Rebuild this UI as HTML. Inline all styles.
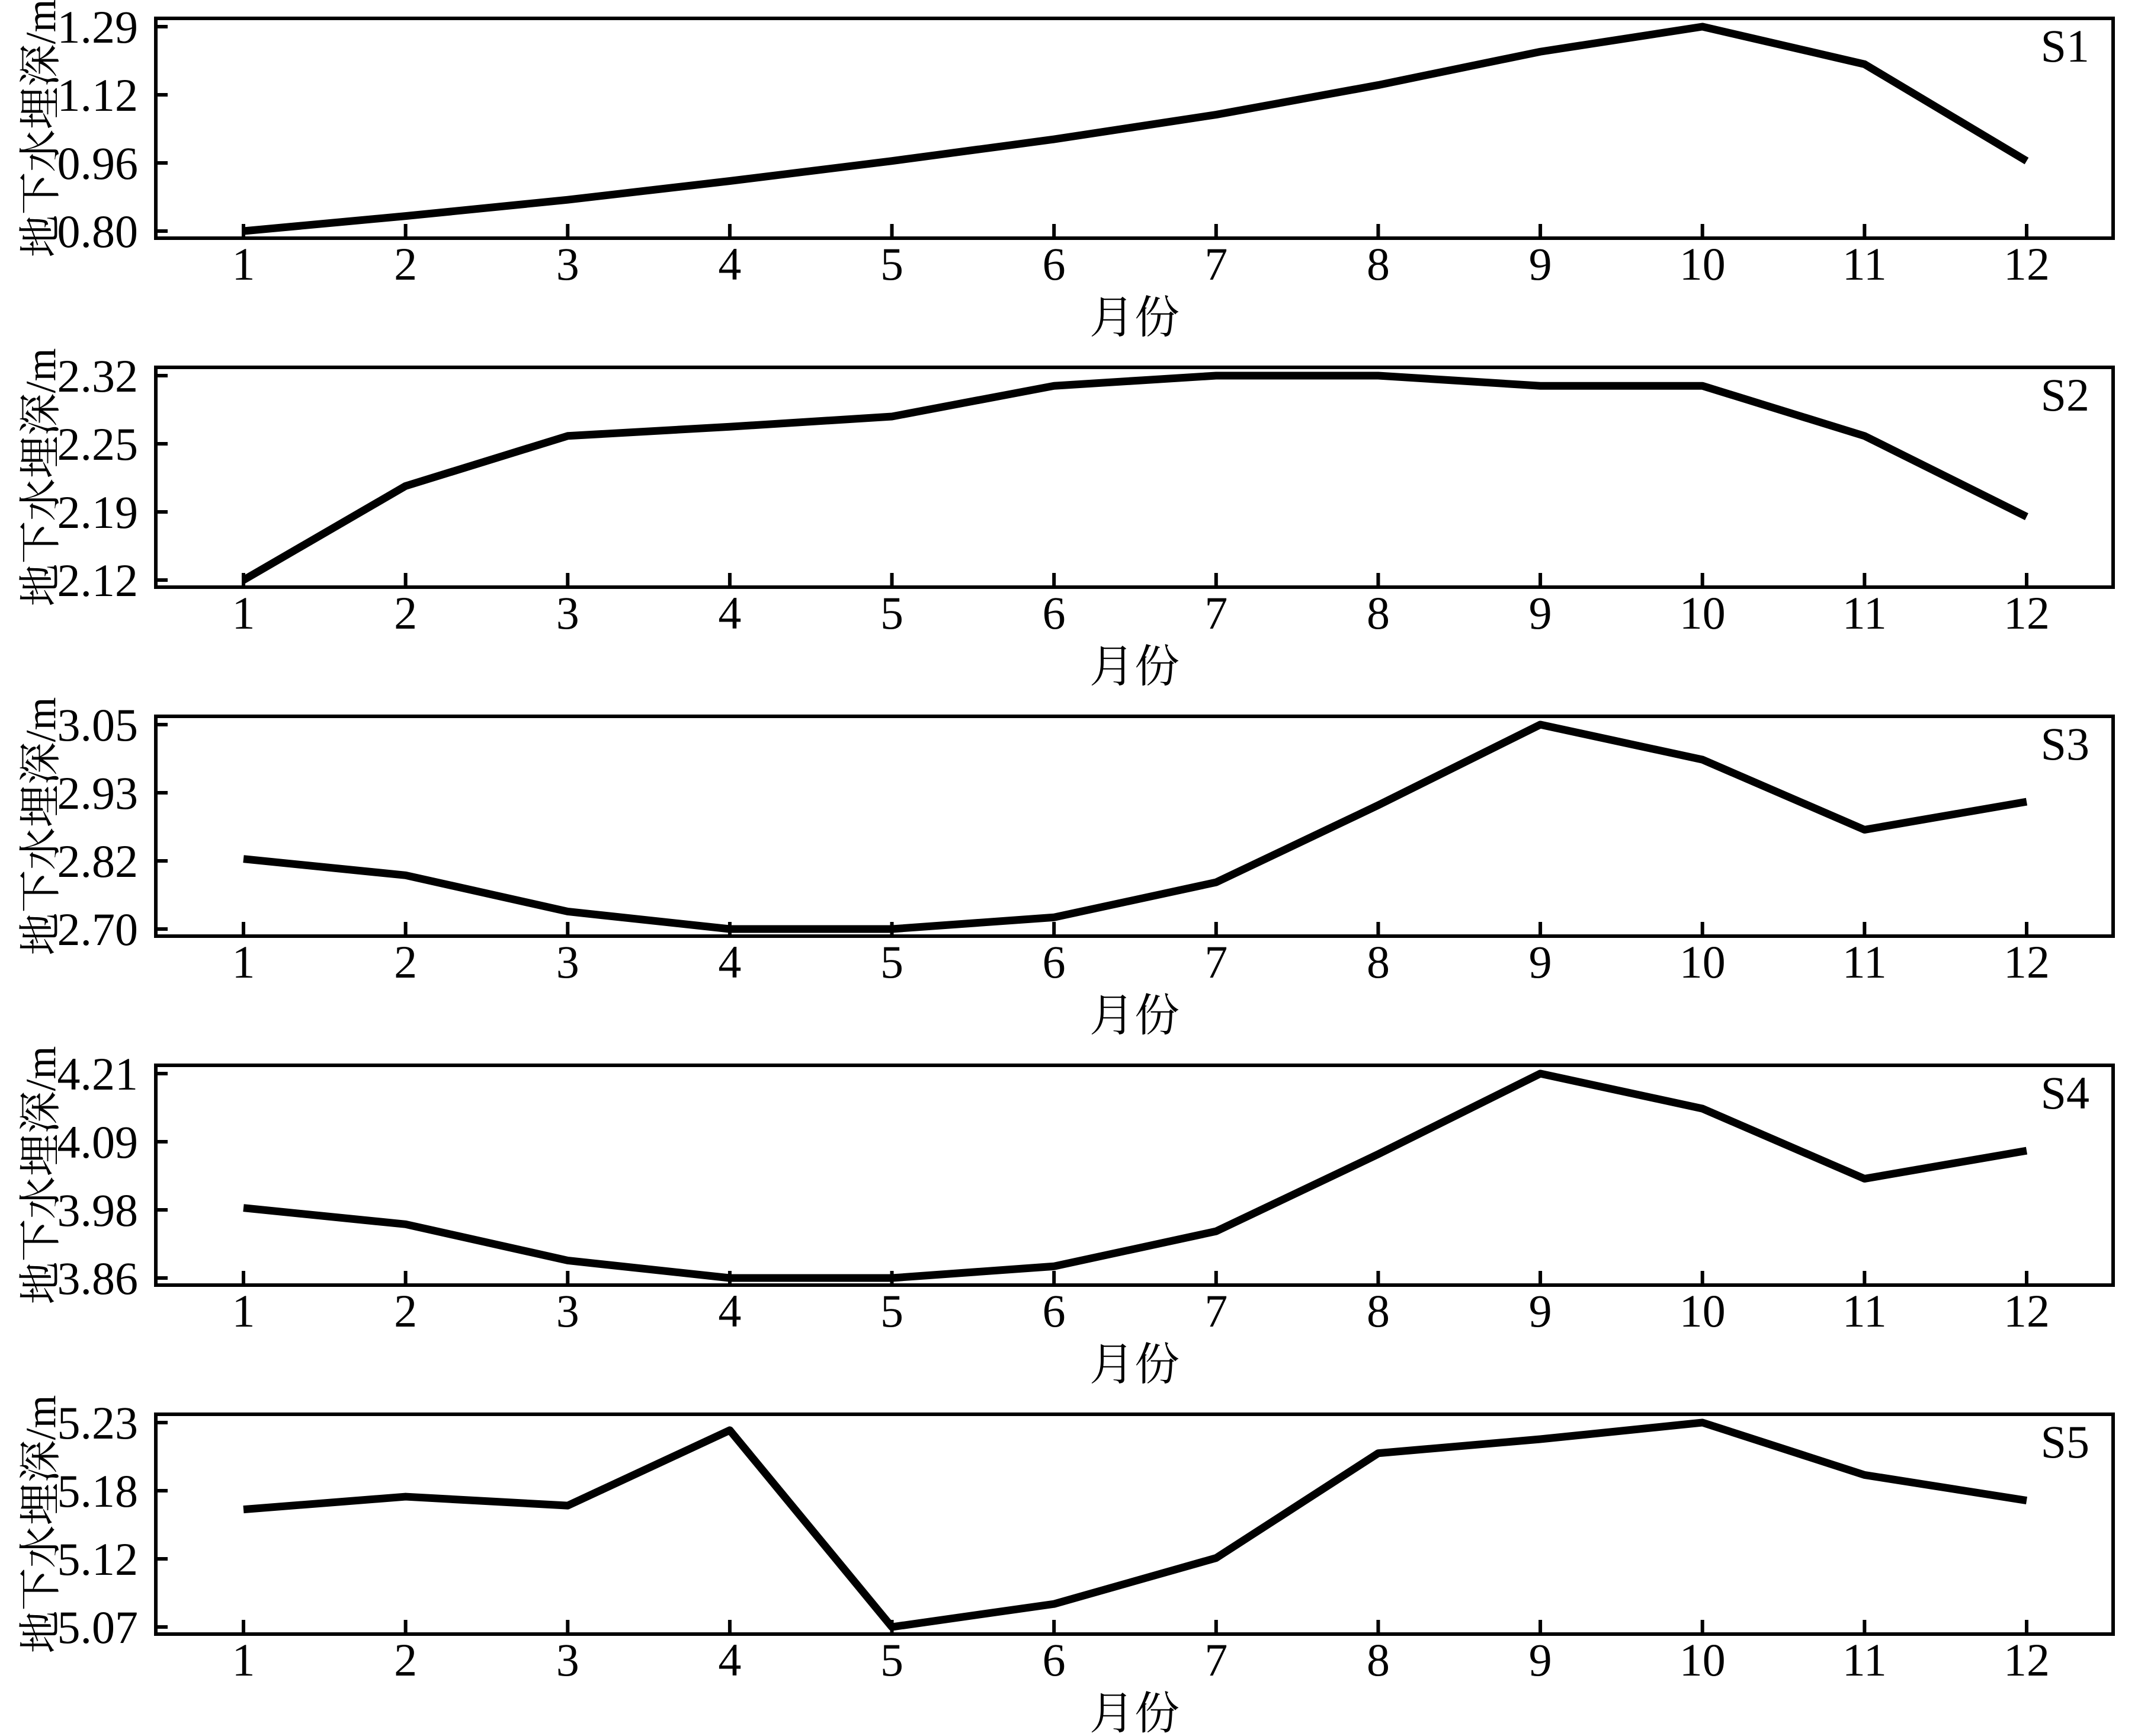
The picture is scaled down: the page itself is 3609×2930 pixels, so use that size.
<!DOCTYPE html>
<html><head><meta charset="utf-8"><style>
html,body{margin:0;padding:0;background:#fff}
svg{display:block}
text{font-family:"Liberation Serif","Noto Serif CJK SC",serif;fill:#000}
</style></head><body>
<svg id="chart" width="3609" height="2930" viewBox="0 0 3609 2930" xmlns="http://www.w3.org/2000/svg"></svg>
<script>
const months = [1,2,3,4,5,6,7,8,9,10,11,12];
const stations = ["S1","S2","S3","S4","S5"];
const s1Values = [0.80,0.836,0.875,0.92,0.968,1.02,1.079,1.15,1.23,1.29,1.20,0.968];
const s2Values = [2.12,2.212,2.261,2.27,2.28,2.31,2.32,2.32,2.31,2.31,2.261,2.182];
const s3Values = [2.82,2.792,2.73,2.70,2.70,2.72,2.78,2.912,3.05,2.99,2.87,2.918];
const s4Values = [3.98,3.952,3.89,3.86,3.86,3.88,3.94,4.072,4.21,4.15,4.03,4.078];
const s5Values = [5.162,5.172,5.165,5.224,5.07,5.088,5.124,5.206,5.217,5.23,5.189,5.169];
const s1Ticks = ["0.80","0.96","1.12","1.29"];
const s2Ticks = ["2.12","2.19","2.25","2.32"];
const s3Ticks = ["2.70","2.82","2.93","3.05"];
const s4Ticks = ["3.86","3.98","4.09","4.21"];
const s5Ticks = ["5.07","5.12","5.18","5.23"];

const allValues=[s1Values,s2Values,s3Values,s4Values,s5Values];
const allTicks=[s1Ticks,s2Ticks,s3Ticks,s4Ticks,s5Ticks];
const NS="http://www.w3.org/2000/svg";
const svg=document.getElementById('chart');
function mk(tag,attrs,parent){const e=document.createElementNS(NS,tag);for(const k in attrs)e.setAttribute(k,attrs[k]);(parent||svg).appendChild(e);return e;}
const L=263,R=3567,H=371,PITCH=589,TOP0=31;
const xScale=m=>411+(m-1)*(3421-411)/11;

stations.forEach((st,i)=>{
  const top=TOP0+i*PITCH,bot=top+H;
  const ticks=allTicks[i];
  const lo=parseFloat(ticks[0]),hi=parseFloat(ticks[ticks.length-1]);
  const yT=top+14,yB=bot-12;
  const yScale=v=>yB-(v-lo)/(hi-lo)*(yB-yT);
  const g=mk('g',{});
  
  
  const fr=mk('rect',{x:L,y:top,width:R-L,height:H,fill:'none',stroke:'#000','stroke-width':6},g);
  
  
  ticks.forEach((t,j)=>{
    const y=yB-j*(yB-yT)/(ticks.length-1);
    const tk=mk('line',{x1:L,x2:L+20,y1:y,y2:y,stroke:'#000','stroke-width':6},g);
    
    
    const tl=mk('text',{x:233,y:y+27,'text-anchor':'end','font-size':78},g);
    tl.textContent=t;
    
    
  });
  months.forEach(m=>{
    const x=xScale(m);
    const tk=mk('line',{x1:x,x2:x,y1:bot,y2:bot-24,stroke:'#000','stroke-width':6},g);
    
    
    const tl=mk('text',{x:x,y:bot+70,'text-anchor':'middle','font-size':78},g);
    tl.textContent=m;
    
    
  });
  const pts=allValues[i].map((v,k)=>xScale(months[k])+','+yScale(v)).join(' ');
  const ln=mk('polyline',{points:pts,fill:'none',stroke:'#000','stroke-width':13,'stroke-linejoin':'round'},g);
  
  
  const sl=mk('text',{x:3527,y:top+73,'text-anchor':'end','font-size':78},g);
  sl.textContent=st;
  
  
  const xt=mk('text',{x:1915,y:bot+160,'text-anchor':'middle','font-size':76},g);
  xt.textContent='月份';
  
  
  const cy=(top+bot)/2;
  const yt=mk('text',{x:0,y:0,'text-anchor':'middle','font-size':72,transform:'translate(93,'+cy+') rotate(-90)'},g);
  yt.textContent='地下水埋深/m';
  
  
});
</script>
</body></html>
